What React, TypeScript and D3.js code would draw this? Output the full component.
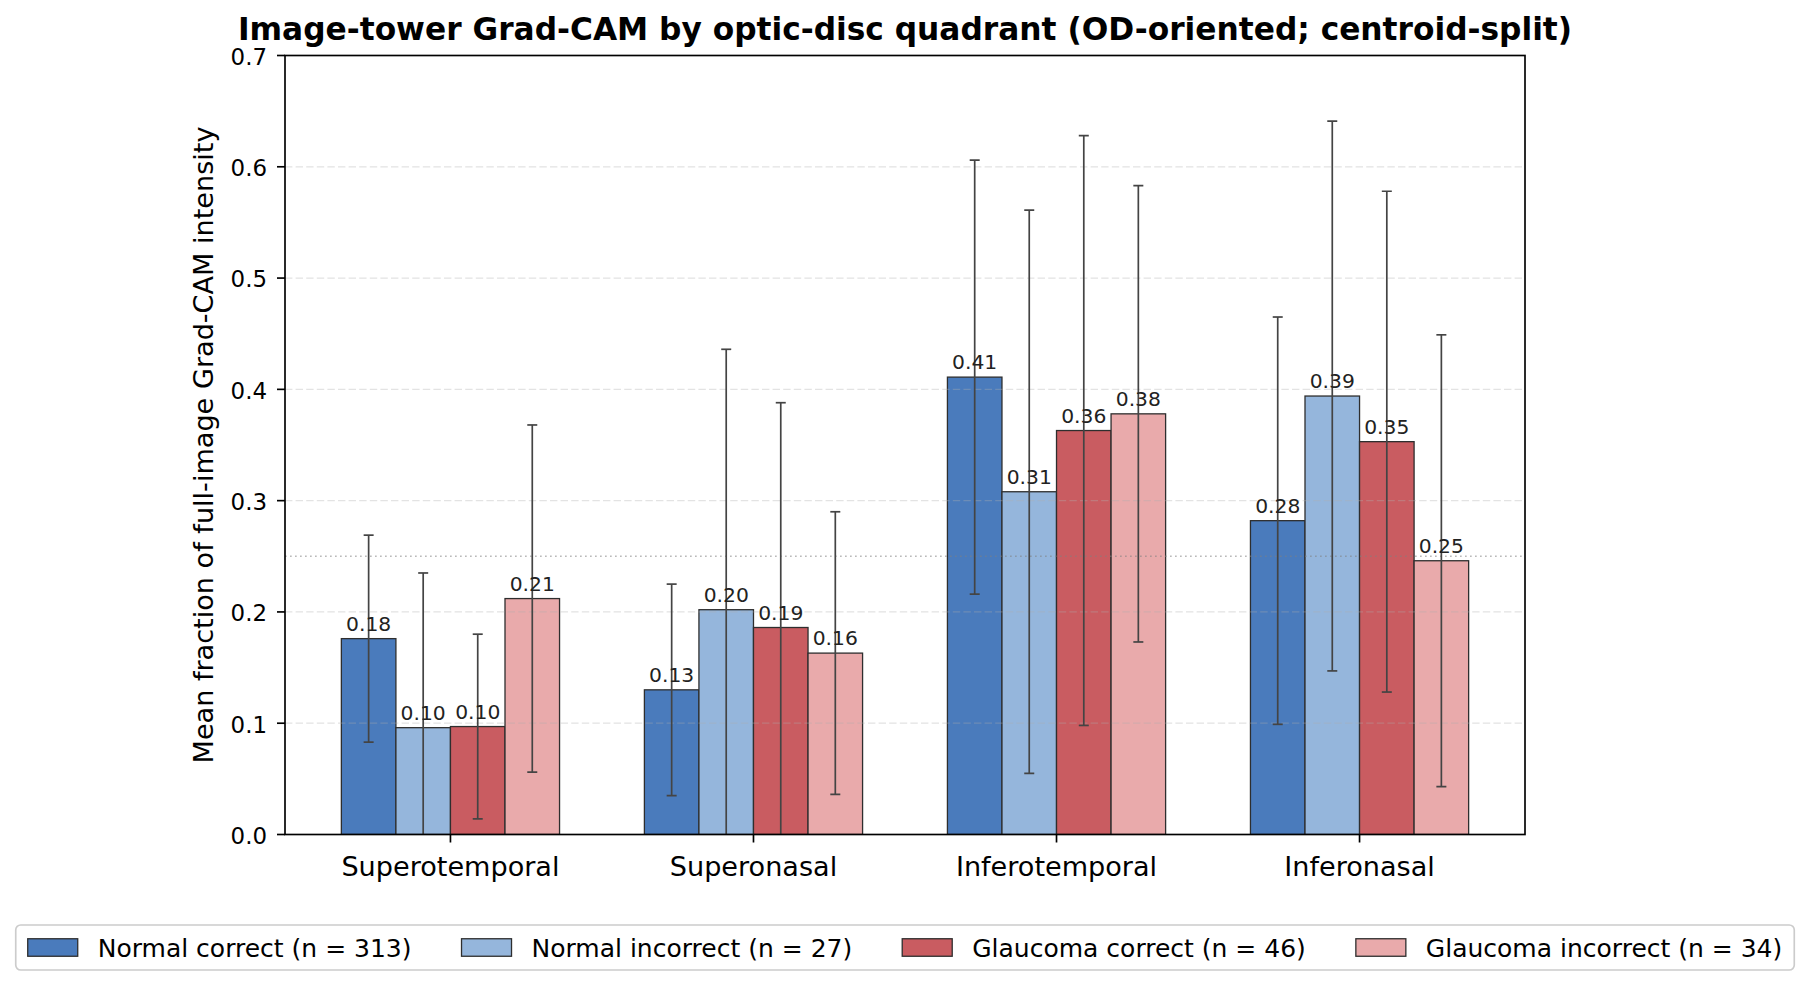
import React, { useEffect, useRef } from "react";
import * as d3 from "d3";

const quadrants = ["Superotemporal", "Superonasal", "Inferotemporal", "Inferonasal"];
const groupLabels = [
  "Normal correct (n = 313)",
  "Normal incorrect (n = 27)",
  "Glaucoma correct (n = 46)",
  "Glaucoma incorrect (n = 34)",
];
const groupColors = ["#4a7bbc", "#95b6dc", "#c95c61", "#e9aaab"];

const normalCorrectMean = [0.176, 0.130, 0.411, 0.282];
const normalCorrectSd = [0.093, 0.095, 0.195, 0.183];
const normalIncorrectMean = [0.096, 0.202, 0.308, 0.394];
const normalIncorrectSd = [0.139, 0.234, 0.253, 0.247];
const glaucomaCorrectMean = [0.097, 0.186, 0.363, 0.353];
const glaucomaCorrectSd = [0.083, 0.202, 0.265, 0.225];
const glaucomaIncorrectMean = [0.212, 0.163, 0.378, 0.246];
const glaucomaIncorrectSd = [0.156, 0.127, 0.205, 0.203];

const yTicks = [0, 0.1, 0.2, 0.3, 0.4, 0.5, 0.6, 0.7];
const gridTicks = [0.1, 0.2, 0.3, 0.4, 0.5, 0.6];
const chanceLevel = 0.25;

const title = "Image-tower Grad-CAM by optic-disc quadrant (OD-oriented; centroid-split)";
const yLabel = "Mean fraction of full-image Grad-CAM intensity";

const W = 1811;
const H = 988;
const FONT = "'DejaVu Sans', 'Liberation Sans', sans-serif";

export default function App() {
  const ref = useRef<SVGSVGElement | null>(null);

  useEffect(() => {
    const svg = d3.select(ref.current);
    svg.selectAll("*").remove();

    const means = [normalCorrectMean, normalIncorrectMean, glaucomaCorrectMean, glaucomaIncorrectMean];
    const sds = [normalCorrectSd, normalIncorrectSd, glaucomaCorrectSd, glaucomaIncorrectSd];
    const barW = 0.18;

    const left = 285, right = 1525, top = 55.5, bottom = 834.5;
    const x = d3.scaleLinear().domain([-0.546, 3.546]).range([left, right]);
    const y = d3.scaleLinear().domain([0, 0.7]).range([bottom, top]);

    svg.append("rect").attr("x", 0).attr("y", 0).attr("width", W).attr("height", H).attr("fill", "#fff");

    svg.append("defs").append("clipPath").attr("id", "plotclip")
      .append("rect").attr("x", left).attr("y", top).attr("width", right - left).attr("height", bottom - top);

    const plot = svg.append("g").attr("clip-path", "url(#plotclip)");

    const data: { q: number; g: number; m: number; s: number }[] = [];
    quadrants.forEach((_, qi) => {
      groupLabels.forEach((_, gi) => {
        data.push({ q: qi, g: gi, m: means[gi][qi], s: sds[gi][qi] });
      });
    });
    const cx = (d: { q: number; g: number }) => x(d.q + (d.g - 1.5) * barW);
    const bw = x(barW) - x(0);

    // bars
    plot.selectAll("rect.bar").data(data).enter().append("rect")
      .attr("class", "bar")
      .attr("x", (d) => cx(d) - bw / 2)
      .attr("width", bw)
      .attr("y", (d) => y(d.m))
      .attr("height", (d) => y(0) - y(d.m))
      .attr("fill", (d) => groupColors[d.g])
      .attr("stroke", "#2e2e2e")
      .attr("stroke-width", 1.3);

    // grid
    plot.selectAll("line.grid").data(gridTicks).enter().append("line")
      .attr("x1", left).attr("x2", right)
      .attr("y1", (d) => y(d)).attr("y2", (d) => y(d))
      .attr("stroke", "#b0b0b0").attr("stroke-opacity", 0.35)
      .attr("stroke-width", 1.3).attr("stroke-dasharray", "7.4,3.2");

    // chance line
    plot.append("line")
      .attr("x1", left).attr("x2", right)
      .attr("y1", y(chanceLevel)).attr("y2", y(chanceLevel))
      .attr("stroke", "#808080").attr("stroke-opacity", 0.55)
      .attr("stroke-width", 1.6).attr("stroke-dasharray", "1.7,3.3");

    // error bars
    const eb = plot.selectAll("g.eb").data(data).enter().append("g");
    eb.append("line")
      .attr("x1", cx).attr("x2", cx)
      .attr("y1", (d) => y(d.m - d.s)).attr("y2", (d) => y(d.m + d.s))
      .attr("stroke", "#444").attr("stroke-width", 1.7);
    eb.append("line")
      .attr("x1", (d) => cx(d) - 5).attr("x2", (d) => cx(d) + 5)
      .attr("y1", (d) => y(d.m + d.s)).attr("y2", (d) => y(d.m + d.s))
      .attr("stroke", "#444").attr("stroke-width", 1.7);
    eb.append("line")
      .attr("x1", (d) => cx(d) - 5).attr("x2", (d) => cx(d) + 5)
      .attr("y1", (d) => y(d.m - d.s)).attr("y2", (d) => y(d.m - d.s))
      .attr("stroke", "#444").attr("stroke-width", 1.7);

    // value labels
    svg.selectAll("text.val").data(data).enter().append("text")
      .attr("x", cx).attr("y", (d) => y(d.m) - 8)
      .attr("text-anchor", "middle")
      .attr("font-family", FONT).attr("font-size", 20.3).attr("fill", "#222")
      .text((d) => d.m.toFixed(2));

    // frame
    svg.append("rect").attr("x", left).attr("y", top).attr("width", right - left).attr("height", bottom - top)
      .attr("fill", "none").attr("stroke", "#000").attr("stroke-width", 1.67);

    // y ticks
    const yt = svg.append("g");
    yt.selectAll("line").data(yTicks).enter().append("line")
      .attr("x1", left - 8).attr("x2", left)
      .attr("y1", (d) => y(d)).attr("y2", (d) => y(d))
      .attr("stroke", "#000").attr("stroke-width", 1.67);
    yt.selectAll("text").data(yTicks).enter().append("text")
      .attr("x", left - 18).attr("y", (d) => y(d) + 9.3)
      .attr("text-anchor", "end")
      .attr("font-family", FONT).attr("font-size", 22.9).attr("fill", "#000")
      .text((d) => d.toFixed(1));

    // x ticks
    const xt = svg.append("g");
    xt.selectAll("line").data(quadrants).enter().append("line")
      .attr("x1", (_, i) => x(i)).attr("x2", (_, i) => x(i))
      .attr("y1", bottom).attr("y2", bottom + 8)
      .attr("stroke", "#000").attr("stroke-width", 1.67);
    xt.selectAll("text").data(quadrants).enter().append("text")
      .attr("x", (_, i) => x(i)).attr("y", 876)
      .attr("text-anchor", "middle")
      .attr("font-family", FONT).attr("font-size", 27.1).attr("fill", "#000")
      .text((d) => d);

    // y label
    svg.append("text")
      .attr("transform", `translate(213,${(top + bottom) / 2}) rotate(-90)`)
      .attr("text-anchor", "middle")
      .attr("font-family", FONT).attr("font-size", 27.1).attr("fill", "#000")
      .text(yLabel);

    // title
    svg.append("text")
      .attr("x", (left + right) / 2).attr("y", 39.5)
      .attr("text-anchor", "middle")
      .attr("font-family", FONT).attr("font-size", 31.25).attr("font-weight", "bold").attr("fill", "#000")
      .text(title);

    // legend
    const fs = 25;
    const patchW = 50, patchH = 17.5, textPad = 20, colSpace = 50, pad = 12;
    const lg = svg.append("g");
    const frame = lg.append("rect");
    const items: { t: any; p: any; w: number }[] = [];
    groupLabels.forEach((lab, i) => {
      const p = lg.append("rect").attr("width", patchW).attr("height", patchH)
        .attr("fill", groupColors[i]).attr("stroke", "#2e2e2e").attr("stroke-width", 1.3);
      const t = lg.append("text").attr("font-family", FONT).attr("font-size", fs).attr("fill", "#000").text(lab);
      const w = (t.node() as SVGTextElement).getComputedTextLength();
      items.push({ t, p, w });
    });
    const total = items.reduce((a, it) => a + patchW + textPad + it.w, 0) + colSpace * (items.length - 1);
    const cxL = (left + right) / 2;
    let xx = cxL - total / 2;
    const cy = 947.5;
    items.forEach((it) => {
      it.p.attr("x", xx).attr("y", cy - patchH / 2);
      it.t.attr("x", xx + patchW + textPad).attr("y", cy + 9);
      xx += patchW + textPad + it.w + colSpace;
    });
    frame.attr("x", cxL - total / 2 - pad).attr("y", 925)
      .attr("width", total + 2 * pad).attr("height", 45)
      .attr("rx", 5).attr("ry", 5)
      .attr("fill", "#fff").attr("fill-opacity", 0.8)
      .attr("stroke", "#cccccc").attr("stroke-width", 1.67);
  }, []);

  return (
    <svg
      ref={ref}
      width={W}
      height={H}
      viewBox={`0 0 ${W} ${H}`}
      style={{ position: "absolute", left: 0, top: 0, display: "block" }}
    />
  );
}
